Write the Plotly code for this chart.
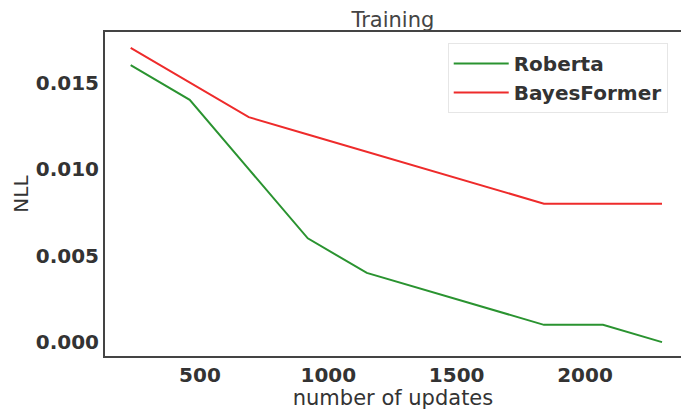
import plotly.graph_objects as go

updates = [230, 460, 690, 920, 1150, 1380, 1610, 1840, 2070, 2300]
roberta = [0.016, 0.014, 0.010, 0.006, 0.004, 0.003, 0.002, 0.001, 0.001, 0.000]
bayesformer = [0.017, 0.015, 0.013, 0.012, 0.011, 0.010, 0.009, 0.008, 0.008, 0.008]
x_ticks = [500, 1000, 1500, 2000]
y_ticks = [0.000, 0.005, 0.010, 0.015]
y_tick_labels = ["0.000", "0.005", "0.010", "0.015"]

fig = go.Figure()
fig.add_trace(go.Scatter(x=updates, y=roberta, mode="lines", name="Roberta",
                         line=dict(color="#2a9330", width=2)))
fig.add_trace(go.Scatter(x=updates, y=bayesformer, mode="lines", name="BayesFormer",
                         line=dict(color="#ee2b2b", width=2)))

fig.update_layout(
    width=681, height=410,
    margin=dict(l=105, r=0, t=32, b=54),
    plot_bgcolor="white", paper_bgcolor="white",
    font=dict(family="DejaVu Sans", color="#333333"),
    title=dict(text="Training", x=0.577, xanchor="center", y=0.952, yanchor="middle",
               font=dict(size=21, color="#444444")),
    showlegend=True,
    legend=dict(x=0.595, y=0.966, xanchor="left", yanchor="top",
                bgcolor="white", bordercolor="#e6e6e6", borderwidth=1,
                font=dict(size=20, family="DejaVu Sans", weight="bold", color="#333333"),
                itemwidth=55, tracegroupgap=2),
    xaxis=dict(range=[130, 2374], tickvals=x_ticks, showgrid=False, zeroline=False,
               showline=True, linecolor="#444444", linewidth=2, mirror=True,
               ticks="", tickfont=dict(size=20, weight="bold", color="#333333"),
               title=dict(text="number of updates", font=dict(size=21, color="#333333"), standoff=3)),
    yaxis=dict(range=[-0.0008, 0.01792], tickvals=y_ticks, ticktext=y_tick_labels,
               showgrid=False, zeroline=False,
               showline=True, linecolor="#444444", linewidth=2,
               ticks="", tickfont=dict(size=20, weight="bold", color="#333333"),
               title=dict(text="NLL", font=dict(size=20, color="#333333"), standoff=2)),
)

fig.write_html("out.html")
